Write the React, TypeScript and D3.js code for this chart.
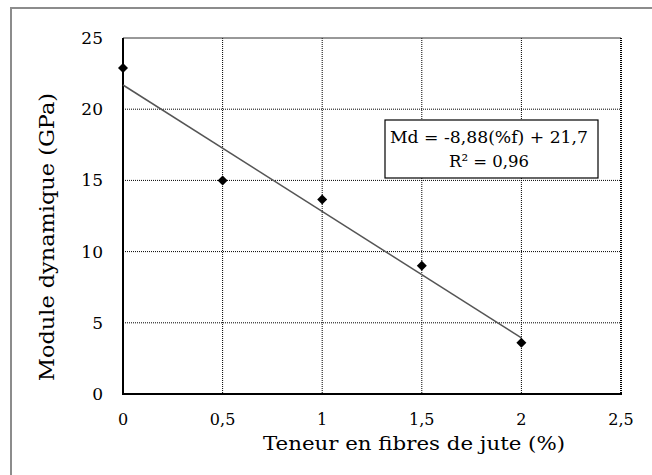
import React from "react";
import * as d3 from "d3";

const xValues = [0, 0.5, 1, 1.5, 2];
const yValues = [22.9, 15.0, 13.65, 9.0, 3.6];
const xTicks = [0, 0.5, 1, 1.5, 2, 2.5];
const yTicks = [0, 5, 10, 15, 20, 25];
const slope = -8.88;
const intercept = 21.7;
const eqLine1 = "Md = -8,88(%f) + 21,7";
const eqLine2 = "R² = 0,96";
const xTitle = "Teneur en fibres de jute (%)";
const yTitle = "Module dynamique (GPa)";

const fmt = (v: number) => String(v).replace(".", ",");

export default function App() {
  const W = 652, H = 475;
  const L = 123, R = 621, T = 38, B = 394;
  const x = d3.scaleLinear().domain([0, 2.5]).range([L, R]);
  const y = d3.scaleLinear().domain([0, 25]).range([B, T]);
  const font = "DejaVu Serif";
  const line = d3.line<number>().x((d) => x(d)).y((d) => y(slope * d + intercept));
  const diamond = (cx: number, cy: number) =>
    `M${cx},${cy - 5}L${cx + 5},${cy}L${cx},${cy + 5}L${cx - 5},${cy}Z`;
  return (
    <svg width={W} height={H} style={{ position: "absolute", left: 0, top: 0 }}>
      <rect x={0} y={0} width={W} height={H} fill="#fff" />
      <rect x={11} y={8} width={W + 10} height={H + 10} fill="none" stroke="#8c8c8c" strokeWidth={2} />
      {yTicks.filter((t) => t > 0 && t < 25).map((t) => (
        <line key={"h" + t} x1={L} x2={R} y1={y(t)} y2={y(t)} stroke="#000" strokeWidth={1} strokeDasharray="1,1" />
      ))}
      {xTicks.filter((t) => t > 0 && t < 2.5).map((t) => (
        <line key={"v" + t} x1={x(t)} x2={x(t)} y1={T} y2={B} stroke="#000" strokeWidth={1} strokeDasharray="1,1" />
      ))}
      <line x1={L} x2={R} y1={T} y2={T} stroke="#333" strokeWidth={1} />
      <line x1={R} x2={R} y1={T} y2={B} stroke="#000" strokeWidth={2} strokeDasharray="1,1" />
      <line x1={L} x2={L} y1={T} y2={B + 1} stroke="#000" strokeWidth={2} />
      <line x1={L} x2={R + 1} y1={B} y2={B} stroke="#000" strokeWidth={2} />
      <path d={line([0, 2]) || ""} stroke="#555" strokeWidth={1.5} fill="none" />
      {xValues.map((xv, i) => (
        <path key={"p" + i} d={diamond(x(xv), y(yValues[i]))} fill="#000" />
      ))}
      {yTicks.map((t) => (
        <text key={"yl" + t} x={103} y={y(t)} dy="0.35em" textAnchor="end" style={{ fontFamily: font }} fontSize={17} fill="#000">
          {fmt(t)}
        </text>
      ))}
      {xTicks.map((t) => (
        <text key={"xl" + t} x={x(t)} y={419} dy="0.35em" textAnchor="middle" style={{ fontFamily: font }} fontSize={16} fill="#000">
          {fmt(t)}
        </text>
      ))}
      <text x={414} y={450} textAnchor="middle" style={{ fontFamily: font }} fontSize={19} textLength={302} lengthAdjust="spacingAndGlyphs" fill="#000">
        {xTitle}
      </text>
      <text transform={`translate(54,237) rotate(-90)`} textAnchor="middle" style={{ fontFamily: font }} fontSize={21} textLength={288} lengthAdjust="spacingAndGlyphs" fill="#000">
        {yTitle}
      </text>
      <rect x={385} y={120} width={213} height={58} fill="#fff" stroke="#000" strokeWidth={1.2} />
      <text x={489} y={137} dy="0.35em" textAnchor="middle" style={{ fontFamily: font }} fontSize={17} textLength={198} lengthAdjust="spacingAndGlyphs" fill="#000">
        {eqLine1}
      </text>
      <text x={489} y={161} dy="0.35em" textAnchor="middle" style={{ fontFamily: font }} fontSize={17} textLength={80} lengthAdjust="spacingAndGlyphs" fill="#000">
        {eqLine2}
      </text>
    </svg>
  );
}
